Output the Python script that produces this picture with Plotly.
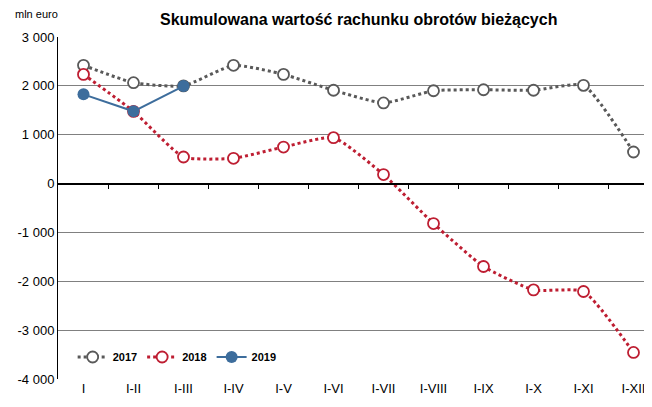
import plotly.graph_objects as go

categories = ["I", "I-II", "I-III", "I-IV", "I-V", "I-VI", "I-VII", "I-VIII", "I-IX", "I-X", "I-XI", "I-XII"]
v2017 = [2420, 2065, 2000, 2420, 2235, 1910, 1650, 1900, 1920, 1910, 2010, 646]
v2018 = [2235, 1478, 544, 517, 748, 940, 184, -818, -1697, -2176, -2209, -3456]
v2019 = [1826, 1479, 1996]
ytick_vals = [3000, 2000, 1000, 0, -1000, -2000, -3000, -4000]
ytick_text = ["3 000", "2 000", "1 000", "0", "-1 000", "-2 000", "-3 000", "-4 000"]

FONT = "Liberation Sans, Arial, sans-serif"
x = list(range(len(categories)))

# figure is placed by the page at an 8px body margin
W, H = 636, 391
ML, MT, MB = 50, 29, 20
PW = W - ML
PH = H - MT - MB

fig = go.Figure()
fig.add_trace(go.Scatter(
    x=x, y=v2017, name="2017", mode="lines+markers",
    line=dict(color="#595959", width=3, dash="dot", shape="spline", smoothing=0.5),
    marker=dict(symbol="circle", size=11, color="white", line=dict(color="#595959", width=1.8)),
))
fig.add_trace(go.Scatter(
    x=x, y=v2018, name="2018", mode="lines+markers",
    line=dict(color="#BE1E32", width=3, dash="dot", shape="spline", smoothing=0.5),
    marker=dict(symbol="circle", size=11, color="white", line=dict(color="#BE1E32", width=1.8)),
))
fig.add_trace(go.Scatter(
    x=x[:len(v2019)], y=v2019, name="2019", mode="lines+markers",
    line=dict(color="#3D6D9C", width=2),
    marker=dict(symbol="circle", size=12, color="#3D6D9C"),
))

xr = [-0.51, -0.51 + PW / 50]
yr = [-4000, 3000]
zero_pos = (0 - yr[0]) / (yr[1] - yr[0])

fig.update_layout(
    width=W, height=H,
    margin=dict(l=ML, r=0, t=MT, b=MB, pad=0),
    paper_bgcolor="white", plot_bgcolor="white",
    font=dict(family=FONT, size=12, color="black"),
    showlegend=True,
    legend=dict(orientation="h", x=0.025, y=(PH - 349 + MT) / PH, xanchor="left", yanchor="middle",
                font=dict(family=FONT, size=11, color="black", weight="bold"),
                bgcolor="rgba(0,0,0,0)", itemwidth=30, tracegroupgap=0),
    xaxis=dict(range=xr, tickvals=x, ticktext=categories, showgrid=False, zeroline=False,
               showline=False, ticks="", tickfont=dict(size=13), fixedrange=True,
               ticklabeloverflow="allow"),
    xaxis2=dict(range=xr, overlaying="x", anchor="free", position=zero_pos, side="bottom",
                showline=True, linecolor="black", linewidth=1.5,
                tickvals=[i + 0.5 for i in range(len(categories) - 1)], ticks="outside",
                ticklen=5, tickcolor="black", tickwidth=1, showticklabels=False,
                showgrid=False, zeroline=False),
    yaxis=dict(range=yr, tickvals=ytick_vals, ticktext=ytick_text, showgrid=True,
               gridcolor="#808080", gridwidth=1, zeroline=False, showline=True,
               linecolor="black", linewidth=1, ticks="", tickfont=dict(size=13)),
    annotations=[
        dict(text="<b>Skumulowana wartość rachunku obrotów bieżących</b>",
             x=(350 - ML) / PW, y=(PH + MT - 11) / PH, xref="paper", yref="paper",
             yanchor="middle", showarrow=False, font=dict(size=16, family=FONT)),
        dict(text="mln euro", x=(5 - ML) / PW, y=(PH + MT - 6) / PH, xref="paper", yref="paper",
             xanchor="left", yanchor="middle", showarrow=False, font=dict(size=11, family=FONT)),
    ],
)

# invisible trace to keep the overlay axis drawn
fig.add_trace(go.Scatter(x=[0], y=[0], xaxis="x2", mode="markers", marker=dict(opacity=0),
                         showlegend=False, hoverinfo="skip"))

fig.write_html("out.html")
